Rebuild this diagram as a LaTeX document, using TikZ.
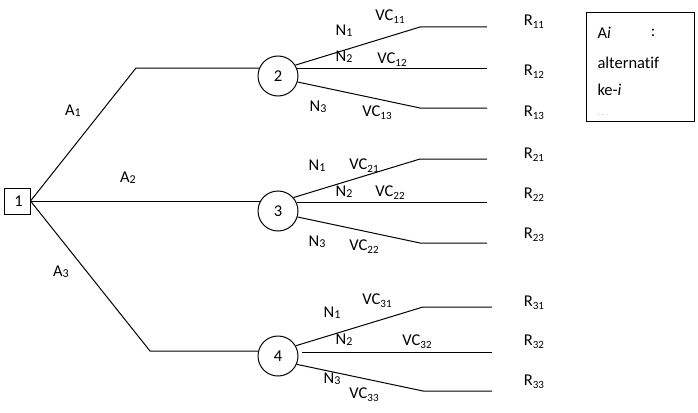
\documentclass[tikz,border=0pt]{standalone}
\usepackage{fontspec}
\setmainfont{Carlito}[Ligatures={NoCommon}]
\newcommand{\lsub}[1]{\raisebox{-0.35ex}{\fontsize{11}{11}\selectfont #1}}
\newcommand{\nsub}[1]{\raisebox{-0.1ex}{\fontsize{12}{12}\selectfont #1}}
\begin{document}
\begin{tikzpicture}[x=1pt,y=-1pt,line width=1pt,
  lbl/.style={font=\fontsize{16.5}{19}\selectfont, inner sep=0},
  circ/.style={draw, circle, minimum size=40pt, inner sep=0, font=\fontsize{16.5}{19}\selectfont},
  sq/.style={draw, rectangle, minimum size=26pt, inner sep=0, font=\fontsize{16.5}{19}\selectfont},
  legend/.style={draw, rectangle, minimum width=108pt, minimum height=108pt, inner sep=0}]
\useasboundingbox (0,0) rectangle (698,412);

% decision nodes
\node[sq] (n1) at (17,201) {\hspace{3pt}1};
\node[circ] (n2) at (278,76) {2};
\node[circ] (n3) at (278,211) {3};
\node[circ] (n4) at (278,356) {4};

% alternatives
\coordinate (a1) at (136,68);
\coordinate (a3) at (150,351);
\draw (n1.east) -- (a1) -- (a1 -| n2.156);
\draw (n1.east) -- (n1.east -| n3.153);
\draw (n1.east) -- (a3) -- (a3 -| n4.166);

\node[lbl] (la1) at (73,111) {A\nsub{1}};
\node[lbl] (la2) at (128,178) {A\nsub{2}};
\node[lbl] (la3) at (61,272) {A\nsub{3}};

% branches of node 2
\coordinate (b11) at (420,27); \coordinate (e11) at (487,27);
\coordinate (e12) at (487,69);
\coordinate (b13) at (420,108); \coordinate (e13) at (487,108);
\draw (n2.32) -- (b11) -- (e11);
\draw (n2.20) -- (n2.20 -| e12);
\draw (n2.-17) -- (b13) -- (e13);

% branches of node 3
\coordinate (b21) at (420,159); \coordinate (e21) at (487,159);
\coordinate (e22) at (487,203);
\coordinate (b23) at (420,243); \coordinate (e23) at (487,243);
\draw (n3.41) -- (b21) -- (e21);
\draw (n3.24) -- (n3.24 -| e22);
\draw (n3.-17) -- (b23) -- (e23);

% branches of node 4
\coordinate (b31) at (423,307); \coordinate (e31) at (492,307);
\coordinate (s32) at (302,352); \coordinate (e32) at (492,352);
\coordinate (b33) at (423,391); \coordinate (e33) at (492,391);
\draw (n4.30) -- (b31) -- (e31);
\draw (s32) -- (e32);
\draw (n4.-24) -- (b33) -- (e33);

% labels node 2
\node[lbl] at (344,31) {N\nsub{1}};
\node[lbl] at (390,17) {VC\lsub{11}};
\node[lbl] at (344,57) {N\nsub{2}};
\node[lbl] at (392,60) {VC\lsub{12}};
\node[lbl] at (318,107) {N\nsub{3}};
\node[lbl] at (377,113) {VC\lsub{13}};
\node[lbl] at (534,22) {R\lsub{11}};
\node[lbl] at (534,72) {R\lsub{12}};
\node[lbl] at (534,113) {R\lsub{13}};

% labels node 3
\node[lbl] at (317,166) {N\nsub{1}};
\node[lbl] at (364,166) {VC\lsub{21}};
\node[lbl] at (344,192) {N\nsub{2}};
\node[lbl] at (390,193) {VC\lsub{22}};
\node[lbl] at (317,242) {N\nsub{3}};
\node[lbl] at (364,247) {VC\lsub{22}};
\node[lbl] at (534,155) {R\lsub{21}};
\node[lbl] at (534,195) {R\lsub{22}};
\node[lbl] at (534,235) {R\lsub{23}};

% labels node 4
\node[lbl] at (332,313) {N\nsub{1}};
\node[lbl] at (377,301) {VC\lsub{31}};
\node[lbl] at (344,340) {N\nsub{2}};
\node[lbl] at (417,342) {VC\lsub{32}};
\node[lbl] at (332,379) {N\nsub{3}};
\node[lbl] at (364,395) {VC\lsub{33}};
\node[lbl] at (534,303) {R\lsub{31}};
\node[lbl] at (534,342) {R\lsub{32}};
\node[lbl] at (534,382) {R\lsub{33}};

% legend
\node[legend] (leg) at (640,67) {};
\node[lbl, anchor=west] (lg1) at (597,33) {A\textit{i}};
\node[lbl] (lg1c) at (653,33) {:};
\node[lbl, anchor=west] (lg2) at (597,63) {alternatif};
\node[lbl, anchor=west] (lg3) at (597,90) {ke-\textit{i}};
\node[lbl, anchor=west, text=gray!60, font=\fontsize{8}{8}\selectfont] (lg4) at (597,115) {. . .};
\end{tikzpicture}
\end{document}
